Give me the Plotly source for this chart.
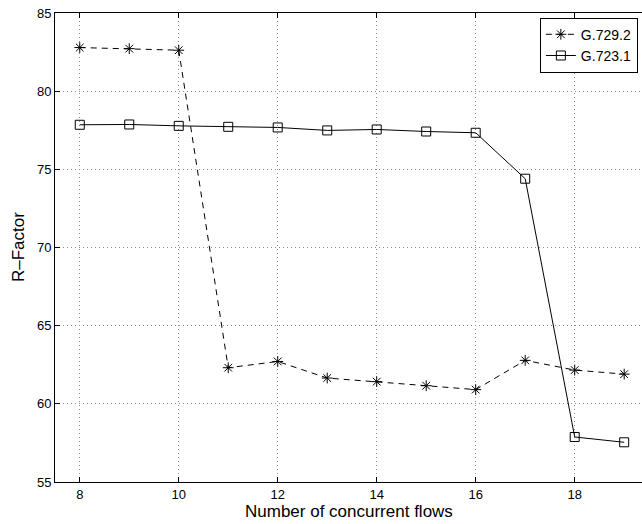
import plotly.graph_objects as go

flows = [8, 9, 10, 11, 12, 13, 14, 15, 16, 17, 18, 19]
g729_2 = [82.79, 82.72, 82.62, 62.31, 62.71, 61.65, 61.42, 61.16, 60.91, 62.78, 62.16, 61.90]
g723_1 = [77.85, 77.87, 77.78, 77.72, 77.68, 77.49, 77.55, 77.42, 77.34, 74.40, 57.88, 57.54]
x_ticks = [8, 10, 12, 14, 16, 18]
y_ticks = [55, 60, 65, 70, 75, 80, 85]

FONT = "Liberation Sans, Arial, Helvetica, sans-serif"

fig = go.Figure()
fig.add_trace(go.Scatter(
    x=flows, y=g729_2, name="G.729.2", mode="lines+markers",
    line=dict(color="black", width=1, dash="6px,5px"),
    marker=dict(symbol="asterisk-open", size=9, color="black",
                line=dict(color="black", width=1)),
))
fig.add_trace(go.Scatter(
    x=flows, y=g723_1, name="G.723.1", mode="lines+markers",
    line=dict(color="black", width=1),
    marker=dict(symbol="square-open", size=9, color="black",
                line=dict(color="black", width=1)),
))

fig.update_layout(
    width=642, height=524,
    margin=dict(l=55, r=0, t=13, b=42, autoexpand=False),
    paper_bgcolor="white", plot_bgcolor="white",
    font=dict(family=FONT, size=13, color="black"),
    showlegend=True,
    legend=dict(x=0.826, y=0.99, xanchor="left", yanchor="top",
                bordercolor="black", borderwidth=1, bgcolor="white",
                font=dict(size=14), tracegroupgap=0,
                itemwidth=30),
    annotations=[
        dict(text="Number of concurrent flows", xref="paper", yref="paper",
             x=0.5, y=-0.063, xanchor="center", yanchor="middle",
             showarrow=False, font=dict(size=17)),
        dict(text="R–Factor", xref="paper", yref="paper",
             x=-0.062, y=0.5, xanchor="center", yanchor="middle",
             textangle=-90, showarrow=False, font=dict(size=17)),
    ],
)
fig.update_xaxes(
    range=[7.5, 19.36], tickvals=x_ticks, ticks="inside", ticklen=5,
    tickcolor="black", showline=True, linecolor="black", linewidth=1,
    mirror="ticks", showgrid=True, gridcolor="#8c8c8c", griddash="1px,3px",
    gridwidth=1, zeroline=False, automargin=False,
    tickfont=dict(size=13),
)
fig.update_yaxes(
    range=[55, 85], tickvals=y_ticks, ticks="inside", ticklen=5,
    tickcolor="black", showline=True, linecolor="black", linewidth=1,
    mirror=False, showgrid=True, gridcolor="#8c8c8c", griddash="1px,3px",
    gridwidth=1, zeroline=False, automargin=False,
    tickfont=dict(size=13),
)

fig.write_html(
    "out.html",
    config={"displayModeBar": False},
    post_script="document.body.style.margin='0';document.body.style.overflow='hidden';",
)
